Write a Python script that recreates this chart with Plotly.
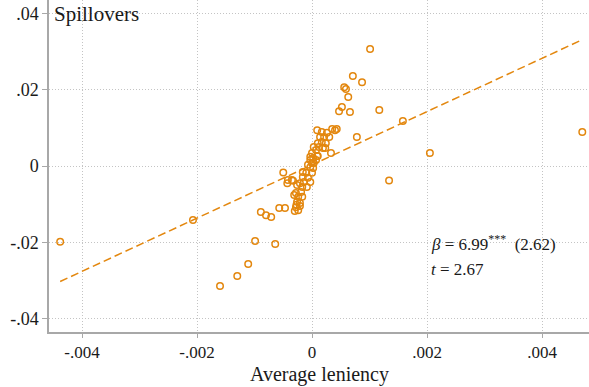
import plotly.graph_objects as go

# Binned points: average leniency (x) vs. spillover outcome (y)
leniency = [
    -0.00438, -0.00207, -0.00160, -0.00130, -0.00111, -0.00099, -0.00064,
    -0.00089, -0.00080, -0.00071, -0.00057, -0.00047, -0.00043, -0.00050,
    -0.00024, -0.00027,
    0.00101, 0.00071, 0.00087, 0.00056, 0.00059, 0.00063, 0.00052, 0.00047,
    0.00066, 0.00117, 0.00078, 0.00035, 0.00040, 0.00043, 0.00158, 0.00205,
    0.00134, 0.00470, 0.00033,
    0.00009, 0.00017, 0.00026, 0.00014, 0.00021, 0.00030, 0.00017, 0.00024,
    0.00010, 0.00003, 0.00012, 0.00019, 0.00023, 0.00007, 0.00000, 0.00009,
    -0.00003, 0.00010, 0.00002, 0.00007, -0.00003, 0.00000, -0.00007,
    0.00003, -0.00003, 0.00002, -0.00010, 0.00000, -0.00016, -0.00016,
    -0.00007, -0.00003, -0.00033, -0.00042, -0.00021, -0.00014, -0.00026,
    -0.00017, -0.00009, -0.00028, -0.00019, -0.00031, -0.00024, -0.00017,
    -0.00026, -0.00021, -0.00028, -0.00021, -0.00030, -0.00035,
]
spillovers = [
    -0.0199, -0.0142, -0.0315, -0.0289, -0.0257, -0.0197, -0.0205,
    -0.0121, -0.0129, -0.0134, -0.0110, -0.0110, -0.0045, -0.0017,
    -0.0116, -0.0102,
    0.0307, 0.0236, 0.0220, 0.0207, 0.0202, 0.0181, 0.0155, 0.0144,
    0.0142, 0.0147, 0.0076, 0.0097, 0.0094, 0.0097, 0.0118, 0.0034,
    -0.0038, 0.0089, 0.0034,
    0.0094, 0.0089, 0.0087, 0.0076, 0.0076, 0.0076, 0.0063, 0.0060,
    0.0060, 0.0050, 0.0050, 0.0047, 0.0047, 0.0042, 0.0034, 0.0026,
    0.0024, 0.0026, 0.0021, 0.0016, 0.0016, 0.0008, 0.0003, 0.0008,
    -0.0003, -0.0005, -0.0018, -0.0018, -0.0016, -0.0029, -0.0031, -0.0042,
    -0.0039, -0.0037, -0.0045, -0.0042, -0.0050, -0.0055, -0.0055, -0.0071,
    -0.0068, -0.0076, -0.0081, -0.0081, -0.0094, -0.0097, -0.0108, -0.0105,
    -0.0118, -0.0037,
]

# Fitted regression line
beta = 6.99
beta_se = 2.62
t_stat = 2.67
intercept = 0.0003

x_ticks = [-0.004, -0.002, 0, 0.002, 0.004]
x_tick_text = ["-.004", "-.002", "0", ".002", ".004"]
y_ticks = [-0.04, -0.02, 0, 0.02, 0.04]
y_tick_text = ["-.04", "-.02", "0", ".02", ".04"]

orange = "#E3870E"
ink = "#1a1a1a"
font_family = "Liberation Serif, Times New Roman, serif"

x_lo, x_hi = min(leniency), max(leniency)
fit_x = [x_lo, x_hi]
fit_y = [intercept + beta * v for v in fit_x]

fig = go.Figure()
fig.add_trace(go.Scatter(
    x=fit_x, y=fit_y, mode="lines",
    line=dict(color=orange, width=1.5, dash="8px,4px"),
    hoverinfo="skip", showlegend=False,
))
fig.add_trace(go.Scatter(
    x=leniency, y=spillovers, mode="markers",
    marker=dict(symbol="circle-open", size=6.5, color=orange,
                line=dict(color=orange, width=1.5)),
    showlegend=False,
))

fig.add_annotation(
    x=0.00203, y=-0.0201, xref="x", yref="y", xanchor="left", yanchor="middle",
    text=f"<i>β</i> = {beta:.2f}<sup>***</sup>  ({beta_se:.2f})",
    showarrow=False, font=dict(family=font_family, size=17, color=ink),
)
fig.add_annotation(
    x=0.00203, y=-0.0271, xref="x", yref="y", xanchor="left", yanchor="middle",
    text=f"<i>t</i> = {t_stat:.2f}",
    showarrow=False, font=dict(family=font_family, size=17, color=ink),
)
fig.add_annotation(
    x=-0.00452, y=0.0398, xref="x", yref="y", xanchor="left", yanchor="middle",
    text="Spillovers", showarrow=False,
    font=dict(family=font_family, size=21, color=ink),
)
# x-axis title
fig.add_annotation(
    x=0.5, y=-0.128, xref="paper", yref="paper", xanchor="center",
    yanchor="middle", text="Average leniency", showarrow=False,
    font=dict(family=font_family, size=20, color=ink),
)

fig.update_layout(
    width=589, height=387,
    margin=dict(l=49, r=0, t=0, b=55),
    paper_bgcolor="white", plot_bgcolor="white",
    font=dict(family=font_family, size=18, color=ink),
)
fig.update_xaxes(
    range=[-0.004574, 0.004817],
    tickvals=x_ticks, ticktext=x_tick_text,
    tickfont=dict(size=17),
    showgrid=True, gridcolor="#c4c4c4", gridwidth=1, griddash="1px,2px",
    zeroline=False, showline=True, linecolor="#a8a8a8", linewidth=1.5,
    ticks="outside", ticklen=4, tickcolor="#a8a8a8",
)
fig.update_yaxes(
    range=[-0.04357, 0.04357],
    tickvals=y_ticks, ticktext=y_tick_text,
    tickfont=dict(size=18),
    showgrid=True, gridcolor="#c4c4c4", gridwidth=1, griddash="1px,2px",
    zeroline=False, showline=True, linecolor="#a8a8a8", linewidth=1.5,
    ticks="outside", ticklen=5, tickcolor="#a8a8a8",
)

fig.write_html("out.html")
